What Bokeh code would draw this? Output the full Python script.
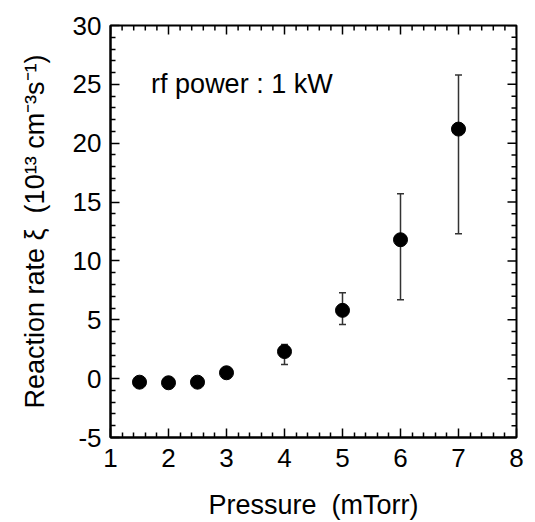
import math
from bokeh.plotting import figure
from bokeh.models import Range1d, FixedTicker, Whisker, ColumnDataSource, TeeHead, Label
from bokeh.embed import file_html
from bokeh.resources import INLINE

pressure = [1.5, 2.0, 2.5, 3.0, 4.0, 5.0, 6.0, 7.0]
rate = [-0.3, -0.35, -0.3, 0.5, 2.3, 5.8, 11.8, 21.2]
err_low = [None, None, None, None, 1.2, 4.6, 6.7, 12.3]
err_high = [None, None, None, None, 2.9, 7.3, 15.7, 25.8]

x_ticks = [1, 2, 3, 4, 5, 6, 7, 8]
y_ticks = [-5, 0, 5, 10, 15, 20, 25, 30]
y_tick_labels = ["-5", "0", "5", "10", "15", "20", "25", "30"]
x_minor = [round(1 + 0.2 * i, 1) for i in range(36) if round(1 + 0.2 * i, 1) not in x_ticks]
y_minor = [v for v in range(-5, 31) if v not in y_ticks]

FONT = "Liberation Sans"

p = figure(width=535, height=522, output_backend="svg", toolbar_location=None,
           x_range=Range1d(1, 8), y_range=Range1d(-5, 30),
           min_border_left=110, min_border_right=19, min_border_top=25, min_border_bottom=84)
p.grid.visible = False
p.outline_line_color = "black"
p.outline_line_width = 2

# error bars
ex = [x for x, lo in zip(pressure, err_low) if lo is not None]
elo = [lo for lo in err_low if lo is not None]
ehi = [hi for hi in err_high if hi is not None]
esrc = ColumnDataSource(dict(x=ex, lo=elo, hi=ehi))
w = Whisker(base="x", lower="lo", upper="hi", source=esrc, dimension="height",
            line_color="#333333", line_width=1.5,
            lower_head=TeeHead(size=7, line_color="#333333", line_width=1.5),
            upper_head=TeeHead(size=7, line_color="#333333", line_width=1.5))
p.add_layout(w)

p.scatter(pressure, rate, size=14, color="black")

for ax in p.axis:
    ax.major_tick_in = 9
    ax.major_tick_out = 0
    ax.minor_tick_in = 5
    ax.minor_tick_out = 0
    ax.axis_line_color = "black"
    ax.axis_line_width = 2
    ax.major_tick_line_width = 1.5
    ax.minor_tick_line_width = 1.5
    ax.major_label_text_font = FONT
    ax.major_label_text_font_size = "26px"
    ax.major_label_text_color = "black"
    ax.axis_label_text_font = FONT
    ax.axis_label_text_font_size = "27px"
    ax.axis_label_text_font_style = "normal"
    ax.axis_label_text_color = "black"

for ax in p.xaxis:
    ax.ticker = FixedTicker(ticks=x_ticks, minor_ticks=x_minor)
    ax.major_label_standoff = 11
    ax.axis_label = "Pressure\u00a0 (mTorr)"
    ax.axis_label_standoff = 20
for ax in p.yaxis:
    ax.ticker = FixedTicker(ticks=y_ticks, minor_ticks=y_minor)
    ax.major_label_overrides = {t: s for t, s in zip(y_ticks, y_tick_labels)}
    ax.major_label_standoff = 9
    ax.axis_label = "Reaction rate \u03be\u00a0 (10\u00b9\u00b3 cm\u207b\u00b3s\u207b\u00b9)"
    ax.axis_label_standoff = 20

# inward ticks on the top and right frame edges
tick_kw = dict(length_units="screen", line_color="black", line_width=1.5)
p.ray(x=x_ticks, y=[30] * len(x_ticks), length=9, angle=-math.pi / 2, **tick_kw)
p.ray(x=x_minor, y=[30] * len(x_minor), length=5, angle=-math.pi / 2, **tick_kw)
p.ray(x=[8] * len(y_ticks), y=y_ticks, length=9, angle=math.pi, **tick_kw)
p.ray(x=[8] * len(y_minor), y=y_minor, length=5, angle=math.pi, **tick_kw)

p.add_layout(Label(x=1.7, y=25, text="rf power : 1 kW", text_font=FONT,
                   text_font_size="27px", text_color="black", text_baseline="middle"))

open("out.html", "w").write(file_html(p, INLINE))
